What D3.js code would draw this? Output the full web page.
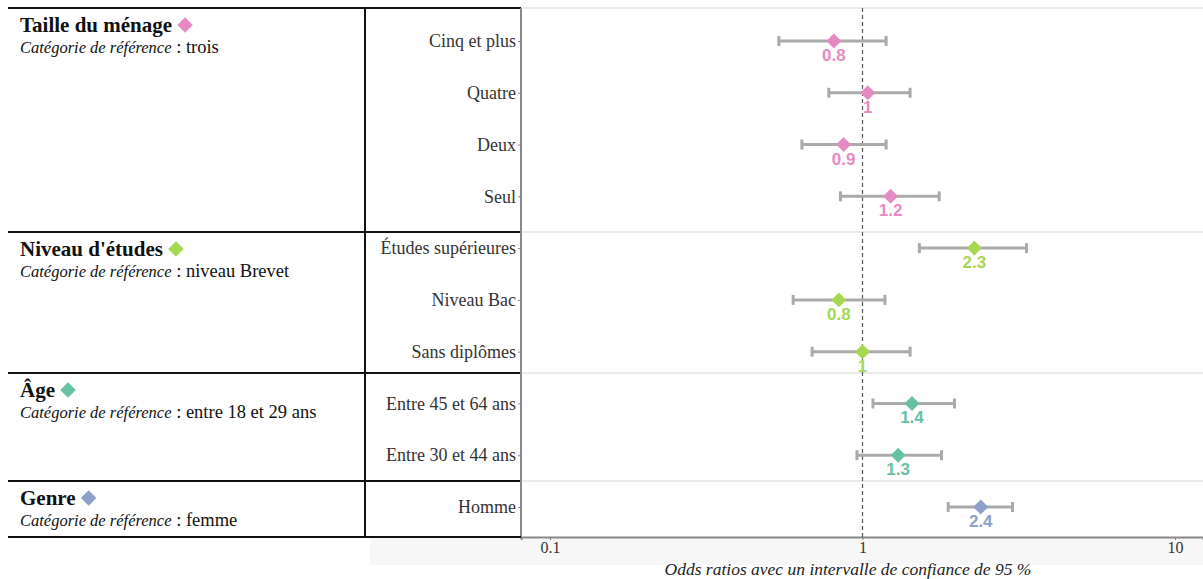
<!DOCTYPE html>
<html><head><meta charset="utf-8">
<script src="https://cdn.jsdelivr.net/npm/d3@7"></script>
<style>
html,body{margin:0;padding:0;background:#fff;}
svg{display:block;}
</style></head>
<body>
<svg id="chart" width="1203" height="579"></svg>
<script>
// ---- data ----
const categories = ["Cinq et plus","Quatre","Deux","Seul","Études supérieures","Niveau Bac","Sans diplômes","Entre 45 et 64 ans","Entre 30 et 44 ans","Homme"];
const groupOf    = ["Taille du ménage","Taille du ménage","Taille du ménage","Taille du ménage","Niveau d'études","Niveau d'études","Niveau d'études","Âge","Âge","Genre"];
const oddsRatio  = [0.81, 1.04, 0.87, 1.23, 2.28, 0.84, 1.00, 1.44, 1.30, 2.39];
const ciLow      = [0.54, 0.78, 0.64, 0.85, 1.52, 0.60, 0.69, 1.08, 0.96, 1.88];
const ciHigh     = [1.19, 1.42, 1.19, 1.76, 3.35, 1.18, 1.42, 1.97, 1.79, 3.02];
const groups     = ["Taille du ménage","Niveau d'études","Âge","Genre"];
const groupRef   = ["trois","niveau Brevet","entre 18 et 29 ans","femme"];
const groupColor = ["#e78ac3","#a6d854","#66c2a5","#8da0cb"];
const xTicks     = [0.1, 1, 10];
const xTickLabels= ["0.1","1","10"];
const xTitle     = "Odds ratios avec un intervalle de confiance de 95 %";

// ---- layout ----
const W = 1203, H = 579;
const plotL = 521, plotR = 1203, plotT = 8, plotB = 537;
const tableL = 8, tableMid = 365;
const boundaries = [8, 232, 373, 481, 537];
const serif = "'Liberation Serif','DejaVu Serif',serif";
const sans = "'Liberation Sans',Arial,sans-serif";

const svg = d3.select("#chart");

const x = d3.scaleLog().domain([0.1*Math.pow(10,-(550-plotL)/312.5), 10*Math.pow(10,(plotR-1175)/312.5)]).range([plotL, plotR]);
const y = d3.scalePoint().domain(categories).range([41, 507]);
const color = d3.scaleOrdinal().domain(groups).range(groupColor);

// x-axis band
svg.append("rect").attr("x",370).attr("y",plotB).attr("width",W-370).attr("height",28).attr("fill","#f7f7f7");

// plot grid separators (light)
svg.selectAll("line.sep").data(boundaries.slice(0,4)).join("line")
  .attr("x1",plotL).attr("x2",plotR).attr("y1",d=>d).attr("y2",d=>d)
  .attr("stroke","#ebebeb").attr("stroke-width",2);

// table lines
svg.selectAll("line.tb").data(boundaries).join("line")
  .attr("x1",tableL).attr("x2",plotL).attr("y1",d=>d).attr("y2",d=>d)
  .attr("stroke","#111").attr("stroke-width",2);
svg.append("line").attr("x1",tableMid).attr("x2",tableMid).attr("y1",plotT).attr("y2",plotB)
  .attr("stroke","#111").attr("stroke-width",2);
svg.append("line").attr("x1",plotL).attr("x2",plotL).attr("y1",plotT).attr("y2",plotB)
  .attr("stroke","#888").attr("stroke-width",2);

// x axis
const xAxis = svg.append("g").attr("transform",`translate(0,${plotB})`)
  .call(d3.axisBottom(x).tickValues(xTicks).tickFormat((d,i)=>xTickLabels[i]).tickSize(3).tickPadding(2));
xAxis.select(".domain").attr("stroke","#888").attr("stroke-width",2);
xAxis.selectAll(".tick line").attr("stroke","#888");
xAxis.selectAll(".tick text").attr("font-family",serif).attr("font-size",16).attr("fill","#333");
svg.append("line").attr("x1",370).attr("x2",plotL).attr("y1",plotB).attr("y2",plotB).attr("stroke","#111").attr("stroke-width",2);

svg.append("text").attr("x",848).attr("y",575).attr("text-anchor","middle")
  .attr("font-family",serif).attr("font-style","italic").attr("font-size",17.5).attr("fill","#222").text(xTitle);

// y axis labels
const yAxis = svg.append("g").attr("transform",`translate(${plotL},0)`)
  .call(d3.axisLeft(y).tickSize(3).tickPadding(2));
yAxis.select(".domain").remove();
yAxis.selectAll(".tick line").attr("stroke","#888");
yAxis.selectAll(".tick text").attr("font-family",serif).attr("font-size",18).attr("fill","#333");

// reference line
svg.append("line").attr("x1",x(1)).attr("x2",x(1)).attr("y1",plotT).attr("y2",plotB)
  .attr("stroke","#555").attr("stroke-width",1.2).attr("stroke-dasharray","4,3");

// group titles
groups.forEach((g,i)=>{
  const top = boundaries[i];
  const t = svg.append("text").attr("x",20).attr("y",top+24)
    .attr("font-family",serif).attr("font-weight","bold").attr("font-size",21).attr("fill","#111").text(g);
  const w = t.node().getComputedTextLength();
  svg.append("path").attr("d",d3.symbol(d3.symbolSquare,120)())
    .attr("transform",`translate(${20+w+13},${top+17}) rotate(45)`).attr("fill",groupColor[i]);
  const s = svg.append("text").attr("x",20).attr("y",top+45)
    .attr("font-family",serif).attr("fill","#111");
  s.append("tspan").attr("font-style","italic").attr("font-size",16.5).text("Catégorie de référence");
  s.append("tspan").attr("font-size",18.5).text(" : "+groupRef[i]);
});

// error bars
const rows = categories.map((c,i)=>({c, g:groupOf[i], v:oddsRatio[i], lo:ciLow[i], hi:ciHigh[i]}));
const eb = svg.append("g");
eb.selectAll("line.bar").data(rows).join("line")
  .attr("x1",d=>x(d.lo)).attr("x2",d=>x(d.hi)).attr("y1",d=>y(d.c)).attr("y2",d=>y(d.c))
  .attr("stroke","#aaa").attr("stroke-width",3);
eb.selectAll("line.capl").data(rows).join("line")
  .attr("x1",d=>x(d.lo)).attr("x2",d=>x(d.lo)).attr("y1",d=>y(d.c)-5).attr("y2",d=>y(d.c)+5)
  .attr("stroke","#aaa").attr("stroke-width",3);
eb.selectAll("line.caph").data(rows).join("line")
  .attr("x1",d=>x(d.hi)).attr("x2",d=>x(d.hi)).attr("y1",d=>y(d.c)-5).attr("y2",d=>y(d.c)+5)
  .attr("stroke","#aaa").attr("stroke-width",3);

// points
svg.selectAll("path.pt").data(rows).join("path")
  .attr("d",d3.symbol(d3.symbolSquare,112)())
  .attr("transform",d=>`translate(${x(d.v)},${y(d.c)}) rotate(45)`)
  .attr("fill",d=>color(d.g));

// value labels
svg.selectAll("text.val").data(rows).join("text")
  .attr("x",d=>x(d.v)).attr("y",d=>y(d.c)+20).attr("text-anchor","middle")
  .attr("font-family",sans).attr("font-weight","bold").attr("font-size",17)
  .attr("fill",d=>color(d.g)).text(d=>String(+d.v.toFixed(1)));
</script>
</body></html>
